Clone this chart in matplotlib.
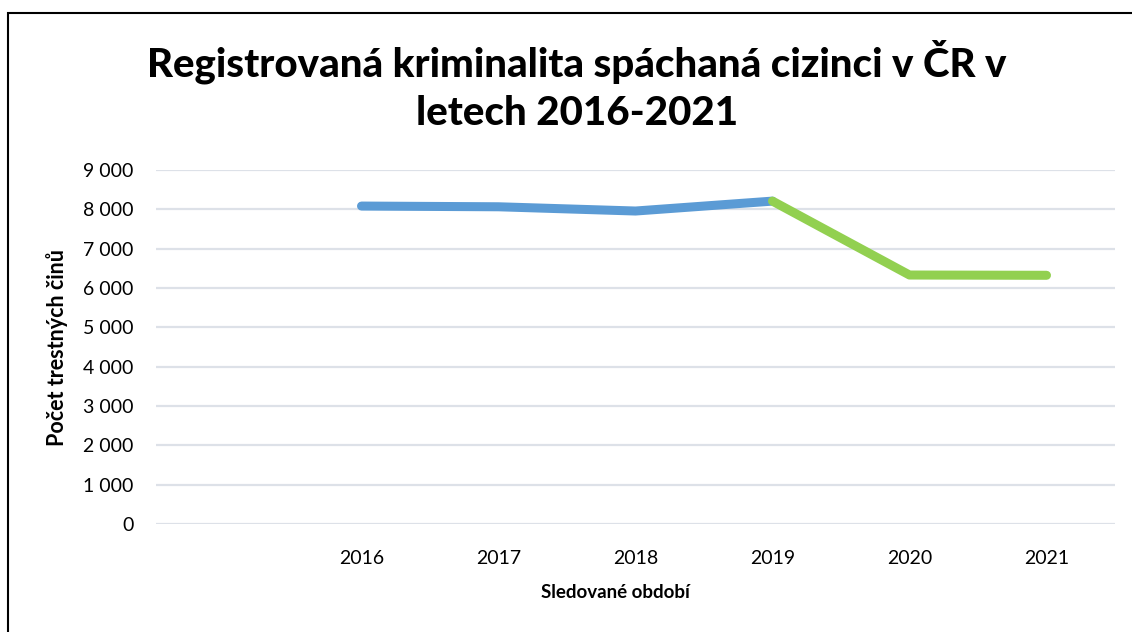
import matplotlib
matplotlib.use('Agg')
import matplotlib.pyplot as plt
from matplotlib.ticker import FuncFormatter
from matplotlib.patches import Rectangle

# Data
categories = ['', '2016', '2017', '2018', '2019', '2020', '2021']
years_before = ['2016', '2017', '2018', '2019']
values_before = [8083, 8065, 7957, 8209]
years_after = ['2019', '2020', '2021']
values_after = [8209, 6330, 6323]

title = 'Registrovaná kriminalita spáchaná cizinci v ČR v\nletech 2016-2021'
x_label = 'Sledované období'
y_label = 'Počet trestných činů'

plt.rcParams['font.family'] = ['Lato', 'DejaVu Sans']

fig = plt.figure(figsize=(11.32, 6.32), dpi=100)
ax = fig.add_axes([156 / 1132, 108 / 632, (1115 - 156) / 1132, (524 - 170) / 632])

pos = {c: i for i, c in enumerate(categories)}
ax.plot([pos[y] for y in years_before], values_before, color='#5B9BD5',
        linewidth=6.5, solid_capstyle='round', solid_joinstyle='round', zorder=3)
ax.plot([pos[y] for y in years_after], values_after, color='#92D050',
        linewidth=6.5, solid_capstyle='round', solid_joinstyle='round', zorder=3)

ax.set_xlim(-0.5, len(categories) - 0.5)
ax.set_ylim(0, 9000)
ax.set_xticks(range(len(categories)))
ax.set_xticklabels(categories)
ax.set_yticks(range(0, 9001, 1000))
ax.yaxis.set_major_formatter(FuncFormatter(lambda v, p: f'{int(v):,}'.replace(',', ' ')))

for s in ax.spines.values():
    s.set_visible(False)
ax.tick_params(axis='both', length=0, labelsize=14, colors='black')
ax.tick_params(axis='y', pad=16)
ax.tick_params(axis='x', pad=19)
ax.grid(axis='y', color='#DDE1E8', linewidth=1.6)
ax.set_axisbelow(True)

fig.text(615 / 1132, 1 - 592 / 632, x_label, ha='center', va='center',
         fontsize=13.5, fontweight='bold')
fig.text(57 / 1132, 1 - 347 / 632, y_label, ha='center', va='center',
         rotation=90, fontsize=15.5, fontweight='bold')
fig.text(577 / 1132, 1 - 86 / 632, title, ha='center', va='center',
         fontsize=29, fontweight='black', linespacing=1.36)

# chart border (only left and top edges visible in reference)
fig.patches.append(Rectangle((8 / 1132, -0.1), 1.2, 1 - 13 / 632 + 0.1,
                             transform=fig.transFigure, fill=False,
                             edgecolor='black', linewidth=1.5))

fig.savefig('out.png', dpi=100)
plt.close(fig)
